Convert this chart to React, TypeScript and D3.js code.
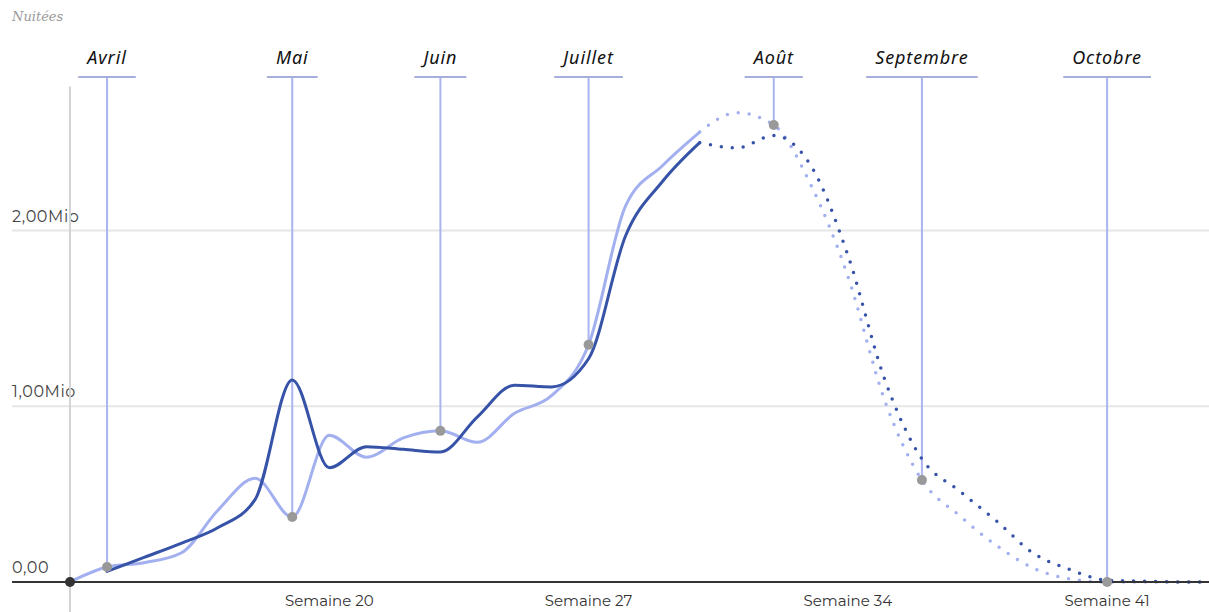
import React, { useEffect, useRef } from 'react';
import * as d3 from 'd3';

// semaines (week numbers) for every data point
const semaines = [13, 14, 15, 16, 17, 18, 19, 20, 21, 22, 23, 24, 25, 26, 27, 28, 29, 30, 31, 32, 33, 34, 35, 36, 37, 38, 39, 40, 41, 42, 43, 44];

// nuitées in millions, previous year (light) and current year (dark)
const nuiteesAnnee1 = [0, 0.085, 0.11, 0.165, 0.41, 0.59, 0.37, 0.835, 0.71, 0.82, 0.86, 0.795, 0.96, 1.06, 1.35, 2.14, 2.37, 2.56, 2.67, 2.6, 2.26, 1.74, 1.03, 0.58, 0.38, 0.21, 0.08, 0.017, 0, 0, 0, 0];
const nuiteesAnnee2 = [null, 0.06, 0.14, 0.22, 0.31, 0.47, 1.15, 0.65, 0.77, 0.755, 0.74, 0.94, 1.12, 1.11, 1.27, 1.97, 2.28, 2.5, 2.47, 2.54, 2.37, 1.86, 1.15, 0.7, 0.52, 0.35, 0.165, 0.07, 0.01, 0.004, 0, 0];

// last observed week, after that the lines are forecasts (dotted)
const derniereSemaine = 30;

const moisLabels = ['Avril', 'Mai', 'Juin', 'Juillet', 'Août', 'Septembre', 'Octobre'];
const moisSemaines = [14, 19, 23, 27, 32, 36, 41];

const xTicks = [20, 27, 34, 41];
const yTicks = [0, 1, 2];

const W = 1209, H = 612;
const left = 70, baseY = 582;

const fmt = (v: number) => v === 0 ? '0,00' : v.toFixed(2).replace('.', ',') + 'Mio';

export default function App() {
  const svgRef = useRef<SVGSVGElement>(null);

  useEffect(() => {
    const svg = d3.select(svgRef.current);
    svg.selectAll('*').remove();

    const x = d3.scaleLinear().domain([13, 13 + (W - left) / 37.04]).range([left, W]);
    const y = d3.scaleLinear().domain([0, 2.82]).range([baseY, baseY - 2.82 * 175.75]);

    const rows = semaines.map((s, i) => ({ s, a: nuiteesAnnee1[i], b: nuiteesAnnee2[i] }));

    // y grid
    svg.append('g').selectAll('line').data(yTicks.filter(d => d > 0)).join('line')
      .attr('x1', 12).attr('x2', W).attr('y1', d => y(d)).attr('y2', d => y(d))
      .attr('stroke', '#e6e6e6').attr('stroke-width', 2);

    svg.append('g').selectAll('text').data(yTicks).join('text')
      .attr('x', 12).attr('y', d => y(d) - 9)
      .attr('font-family', 'Montserrat, "Noto Sans", sans-serif').attr('font-size', 16)
      .attr('letter-spacing', 0.6)
      .attr('fill', '#444').text(d => fmt(d));

    // y axis line
    svg.append('line').attr('x1', left).attr('x2', left).attr('y1', y(2.82)).attr('y2', H)
      .attr('stroke', '#d4d4d4').attr('stroke-width', 2);

    svg.append('text').attr('x', 12).attr('y', 21)
      .attr('font-family', 'Georgia, "DejaVu Serif", serif').attr('font-style', 'italic')
      .attr('font-size', 13).attr('fill', '#999').text('Nuitées');

    // month annotations
    const mois = moisLabels.map((m, i) => ({ m, s: moisSemaines[i], v: nuiteesAnnee1[semaines.indexOf(moisSemaines[i])] }));
    const mg = svg.append('g');
    mg.selectAll('line.v').data(mois).join('line').attr('class', 'v')
      .attr('x1', d => x(d.s)).attr('x2', d => x(d.s)).attr('y1', 77).attr('y2', d => y(d.v))
      .attr('stroke', '#aab5f0').attr('stroke-width', 2);
    const labels = mg.selectAll('text').data(mois).join('text')
      .attr('x', d => x(d.s)).attr('y', 64).attr('text-anchor', 'middle')
      .attr('font-family', '"Noto Sans", sans-serif').attr('font-style', 'italic').attr('font-weight', 400)
      .attr('font-size', 18).attr('letter-spacing', 0.9).attr('fill', '#111').text(d => d.m);
    labels.each(function (d: any) {
      const w = (this as SVGTextElement).getComputedTextLength() + 18;
      mg.append('line').attr('x1', x(d.s) - w / 2).attr('x2', x(d.s) + w / 2).attr('y1', 77).attr('y2', 77)
        .attr('stroke', '#a8aedb').attr('stroke-width', 2);
    });

    const line = (key: 'a' | 'b') => d3.line<any>()
      .defined(d => d[key] !== null)
      .x(d => x(d.s)).y(d => y(d[key]))
      .curve(d3.curveMonotoneX);

    const series = [
      { key: 'a' as const, color: '#a3b0f0' },
      { key: 'b' as const, color: '#3753a8' },
    ];
    series.forEach(sr => {
      svg.append('path').datum(rows.filter(r => r.s >= derniereSemaine))
        .attr('d', line(sr.key)).attr('fill', 'none').attr('stroke', sr.color)
        .attr('stroke-width', 3.5).attr('stroke-linecap', 'round').attr('stroke-dasharray', '0 11');
      svg.append('path').datum(rows.filter(r => r.s <= derniereSemaine))
        .attr('d', line(sr.key)).attr('fill', 'none').attr('stroke', sr.color)
        .attr('stroke-width', 3).attr('stroke-linecap', 'round');
    });

    // baseline
    svg.append('line').attr('x1', 12).attr('x2', W).attr('y1', baseY).attr('y2', baseY)
      .attr('stroke', '#333').attr('stroke-width', 2);

    // x labels
    svg.append('g').selectAll('text').data(xTicks).join('text')
      .attr('x', d => x(d)).attr('y', 606).attr('text-anchor', 'middle')
      .attr('font-family', 'Montserrat, "Noto Sans", sans-serif').attr('font-size', 15)
      .attr('fill', '#333').text(d => 'Semaine ' + d);

    // dots
    svg.append('g').selectAll('circle').data(mois).join('circle')
      .attr('cx', d => x(d.s)).attr('cy', d => y(d.v)).attr('r', 5).attr('fill', '#999');
    svg.append('circle').attr('cx', x(semaines[0])).attr('cy', y(nuiteesAnnee1[0])).attr('r', 5).attr('fill', '#333');
  }, []);

  return (
    <svg ref={svgRef} width={W} height={H}
      style={{ position: 'absolute', left: 0, top: 0, background: '#fff' }} />
  );
}
